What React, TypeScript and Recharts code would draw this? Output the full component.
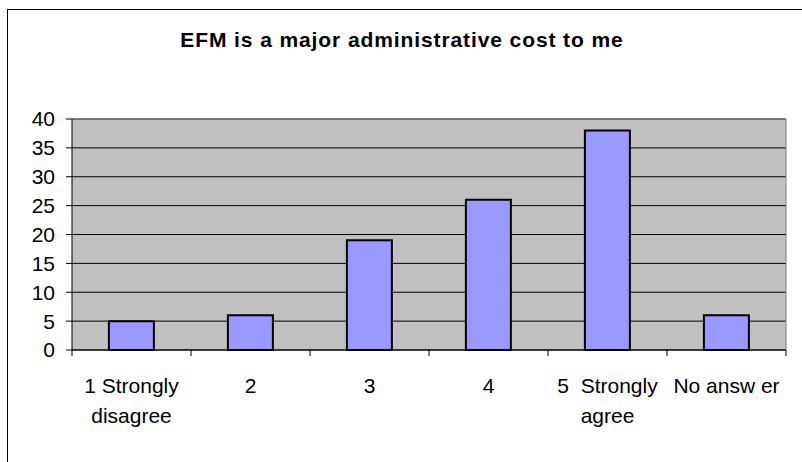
import React from 'react';
import { BarChart, Bar, XAxis, YAxis, CartesianGrid, ReferenceLine } from 'recharts';

const categories = ['1 Strongly disagree', '2', '3', '4', '5 Strongly agree', 'No answer'];
const labelLines = [
  ['1 Strongly', 'disagree'],
  ['2'],
  ['3'],
  ['4'],
  ['5\u00a0 Strongly', 'agree'],
  ['No answ er'],
];
const counts = [5, 6, 19, 26, 38, 6];
const yTicks = [0, 5, 10, 15, 20, 25, 30, 35, 40];
const title = 'EFM is a major administrative cost to me';

const data = categories.map((name, i) => ({ name, value: counts[i] }));

const FONT = '"Liberation Sans", Arial, sans-serif';

const XTick = (props: any) => {
  const { x, y, payload, index } = props;
  const half = payload && payload.offset ? payload.offset : 59.5;
  const lines = labelLines[index] || [String(payload.value)];
  return (
    <g>
      <line x1={x - half} x2={x - half} y1={y} y2={y + 6} stroke="#000" />
      {index === categories.length - 1 && (
        <line x1={x + half} x2={x + half} y1={y} y2={y + 6} stroke="#000" />
      )}
      <text x={x} y={y + 43} textAnchor="middle" fill="#000" fontSize={21} fontFamily={FONT}>
        {lines.map((l, i) => (
          <tspan key={i} x={x} dy={i === 0 ? 0 : 30}>
            {l}
          </tspan>
        ))}
      </text>
    </g>
  );
};

export default function App() {
  return (
    <div
      style={{
        position: 'absolute',
        left: 0,
        top: 0,
        width: 802,
        height: 462,
        overflow: 'hidden',
        background: '#fff',
        fontFamily: FONT,
      }}
    >
      <div
        style={{
          position: 'absolute',
          left: 7,
          top: 9,
          width: 820,
          height: 480,
          borderLeft: '1px solid #000',
          borderTop: '1px solid #000',
        }}
      />
      <div style={{ position: 'absolute', left: 0, top: 0 }}>
        <BarChart
          width={802}
          height={462}
          data={data}
          margin={{ top: 119, right: 15, bottom: 0, left: 0 }}
          barCategoryGap="31%"
        >
          <CartesianGrid vertical={false} stroke="#000" fill="#C0C0C0" fillOpacity={1} />
          <XAxis
            dataKey="name"
            height={112}
            interval={0}
            tickSize={0}
            tickMargin={0}
            tickLine={false}
            axisLine={{ stroke: '#000' }}
            tick={<XTick />}
          />
          <YAxis
            width={72}
            domain={[0, 40]}
            ticks={yTicks}
            interval={0}
            tickSize={6}
            tickMargin={11}
            axisLine={{ stroke: '#000' }}
            tickLine={{ stroke: '#000' }}
            tick={{ fill: '#000', fontSize: 21, fontFamily: FONT }}
          />
          <YAxis
            yAxisId="r"
            orientation="right"
            width={1}
            domain={[0, 40]}
            tick={false}
            tickLine={false}
            axisLine={{ stroke: '#808080' }}
          />
          <ReferenceLine y={40} stroke="#808080" />
          <Bar dataKey="value" fill="#9999FF" stroke="#000" strokeWidth={2} isAnimationActive={false} />
        </BarChart>
      </div>
      <svg
        width={802}
        height={462}
        style={{ position: 'absolute', left: 0, top: 0, pointerEvents: 'none' }}
      >
        <text
          x={402}
          y={47}
          textAnchor="middle"
          fontSize={21}
          fontWeight="bold"
          fontFamily={FONT}
          letterSpacing={0.9}
          fill="#000"
        >
          {title}
        </text>
      </svg>
    </div>
  );
}
